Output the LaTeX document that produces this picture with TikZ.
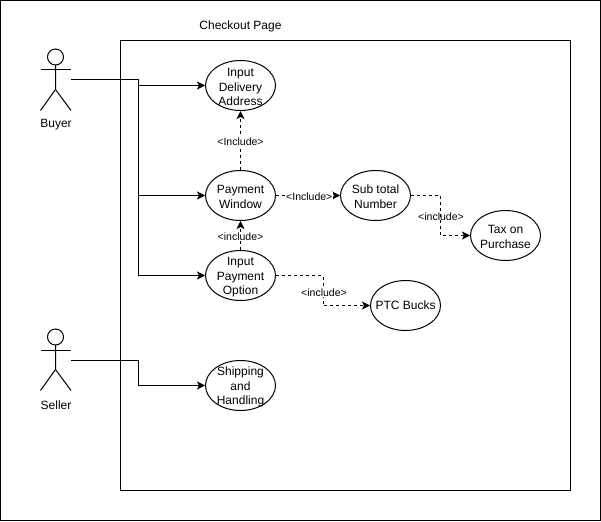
\documentclass[tikz,border=0pt]{standalone}
\usepackage{fontspec}
\setmainfont{Liberation Sans}
\usetikzlibrary{calc,arrows.meta,shapes.geometric}
\newcommand{\topgap}{\rule{0pt}{11.5pt}}
\tikzset{
  usecase/.style={draw,ellipse,align=center,minimum width=70pt,minimum height=50pt,inner sep=-8pt,font=\fontsize{12}{14.6}\selectfont},
  actorbox/.style={minimum width=30pt,minimum height=60pt,inner sep=0pt},
  actorname/.style={font=\fontsize{12}{14}\selectfont},
  assoc/.style={-{Stealth[length=8pt,width=8pt,inset=2pt]}},
  incl/.style={dashed,dash pattern=on 3pt off 3pt,-{Stealth[length=8pt,width=8pt,inset=2pt]}},
  incllabel/.style={fill=white,inner sep=0.5pt,font=\fontsize{10.5}{12}\selectfont}
}
\begin{document}
\begin{tikzpicture}[x=1pt,y=-1pt,line width=1pt]
  \useasboundingbox (0,0) rectangle (601,521);
  \draw (0.5,0.5) rectangle (600,520);
  \draw (120.5,40.5) rectangle (570.5,490.5);
  \node[font=\fontsize{12}{14}\selectfont] (title) at (240.5,26.5) {Checkout Page};
  % actors
  \node[actorbox] (buyer) at (55.5,80) {};
  \node[actorbox] (seller) at (55.5,360) {};
  \foreach \who in {buyer,seller}{
    \draw ($(\who.north)+(0,7.5)$) circle (8);
    \draw ($(\who.north)+(0,15.5)$) -- ($(\who.north)+(0,40)$) -- ($(\who.south west)+(0.5,0)$);
    \draw ($(\who.north)+(0,40)$) -- ($(\who.south east)+(0,0)$);
    \draw ($(\who.west)+(0.5,-10)$) -- ($(\who.east)+(0,-10)$);
  }
  \node[actorname] (buyername) at (56,125) {Buyer};
  \node[actorname] (sellername) at (56,405) {Seller};
  % use cases
  \node[usecase] (delivery) at (240.5,85.5) {\topgap Input\\Delivery\\Address};
  \node[usecase] (payment) at (240.5,195.5) {\topgap Payment\\Window};
  \node[usecase] (option) at (240.5,275.5) {\topgap Input\\Payment\\Option};
  \node[usecase] (subtotal) at (375.5,195.5) {\topgap Sub total\\Number};
  \node[usecase] (tax) at (505.5,235.5) {\topgap Tax on\\Purchase};
  \node[usecase] (bucks) at (405.5,305.5) {PTC Bucks};
  \node[usecase] (shipping) at (240.5,385.5) {\topgap Shipping\\and\\Handling};
  % actor lines
  \coordinate (busx) at (138,80);
  \coordinate (busy) at (138,360);
  \draw[assoc] (buyer.east) -- (busx) |- (delivery.west);
  \draw[assoc] (buyer.east) -- (busx) |- (payment.west);
  \draw[assoc] (buyer.east) -- (busx) |- (option.west);
  \draw[assoc] (seller.east) -- (busy) |- (shipping.west);
  % include lines
  \draw[incl] (payment.north) -- (delivery.south) node[midway,incllabel,yshift=-1pt] (lblone) {<Include>};
  \draw[incl] (option.north) -- (payment.south) node[midway,incllabel,yshift=-1pt] (lbltwo) {<include>};
  \draw[incl] (payment.east) -- (subtotal.west) node[pos=0.52,incllabel,yshift=-1pt] (lblthree) {<Include>};
  \coordinate (bendtax) at ($(subtotal.east)!0.5!(tax.west)$);
  \coordinate (bendbucks) at ($(option.east)!0.5!(bucks.west)$);
  \draw[incl] (subtotal.east) -| (bendtax) |- (tax.west);
  \draw[incl] (option.east) -| (bendbucks) |- (bucks.west);
  \node[incllabel,fill=none] (lblfour) at ($(bendtax)+(0.5,1.5)$) {<include>};
  \node[incllabel] (lblfive) at ($(bendbucks)+(1,2.5)$) {<include>};
\end{tikzpicture}
\end{document}
